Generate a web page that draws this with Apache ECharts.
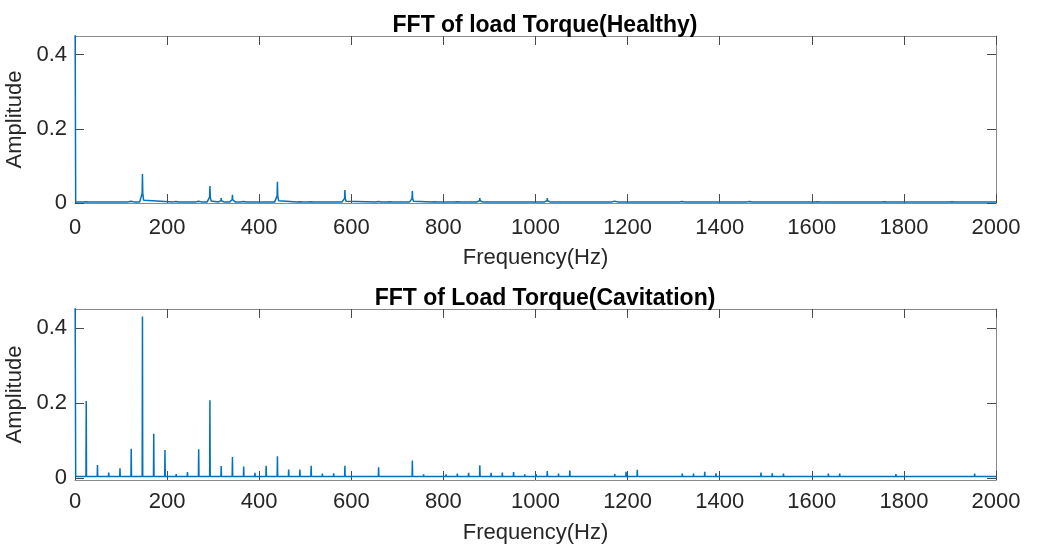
<!DOCTYPE html>
<html>
<head>
<meta charset="utf-8">
<title>FFT of Load Torque</title>
<script src="https://cdn.jsdelivr.net/npm/echarts@6/dist/echarts.min.js"></script>
<style>
  html, body { margin: 0; padding: 0; background: #ffffff; }
  #chart { width: 1040px; height: 547px; }
</style>
</head>
<body>
<div id="chart"></div>
<script>
// Frequency axis ticks (Hz) and amplitude ticks
const freqTicks = [0, 200, 400, 600, 800, 1000, 1200, 1400, 1600, 1800, 2000];
const ampTicks = [0, 0.2, 0.4];

// Healthy pump: spectral peaks (Hz) and their amplitudes
const healthyFreq = [24.4, 122.1, 146.5, 219.8, 268.6, 293.0, 317.5, 341.9, 366.3, 439.6,
  488.4, 512.8, 586.1, 659.3, 683.8, 732.6, 781.4, 830.3, 879.1, 1025.6,
  1172.2, 1318.7, 1465.2, 1611.8, 1758.3, 1904.8];
const healthyAmp = [0.005, 0.009, 0.078, 0.007, 0.009, 0.046, 0.013, 0.022, 0.007, 0.057,
  0.005, 0.005, 0.035, 0.006, 0.005, 0.032, 0.005, 0.005, 0.013, 0.013,
  0.010, 0.006, 0.007, 0.004, 0.004, 0.004];
const healthyFloor = 0.003;

// Cavitating pump: harmonic lines (Hz) and their amplitudes
const cavFreq = [24.4, 48.8, 73.3, 97.7, 122.1, 146.5, 171.0, 195.4, 219.8, 244.2,
  268.6, 293.0, 317.5, 341.9, 366.3, 390.7, 415.1, 439.6, 464.0, 488.4,
  512.8, 537.2, 561.7, 586.1, 610.5, 634.9, 659.3, 708.2, 732.6, 757.0,
  781.4, 805.9, 830.3, 854.7, 879.1, 903.5, 928.0, 952.4, 976.8, 1001.2,
  1025.6, 1050.0, 1074.5, 1098.9, 1172.2, 1196.6, 1221.0, 1294.3, 1318.7, 1343.1,
  1367.5, 1391.9, 1440.8, 1489.6, 1514.0, 1538.5, 1587.3, 1636.1, 1660.6, 1685.0,
  1782.7, 1807.0, 1904.8, 1953.6, 1978.0];
const cavAmp = [0.205, 0.035, 0.015, 0.026, 0.078, 0.430, 0.118, 0.075, 0.011, 0.016,
  0.077, 0.207, 0.032, 0.056, 0.031, 0.014, 0.033, 0.058, 0.023, 0.023,
  0.033, 0.012, 0.013, 0.033, 0.008, 0.008, 0.029, 0.008, 0.047, 0.010,
  0.008, 0.010, 0.012, 0.014, 0.034, 0.014, 0.015, 0.016, 0.010, 0.011,
  0.019, 0.012, 0.020, 0.009, 0.011, 0.017, 0.022, 0.009, 0.012, 0.012,
  0.017, 0.013, 0.009, 0.015, 0.013, 0.012, 0.009, 0.012, 0.012, 0.009,
  0.011, 0.009, 0.009, 0.012, 0.009];
const cavFloor = 0.004;

// DC component (off the top of both plots)
const dcAmp = 0.6;

// Peak outline: offsets in Hz and fraction of the peak height above the floor
const leakySkirt = [[-6, 0], [-2.5, 0.06], [-0.7, 0.3], [0, 1], [0.7, 0.3], [2.5, 0.06], [6, 0]];
const sharpLine = [[-0.6, 0], [0, 1], [0.6, 0]];

function spectrum(freqs, amps, floor, shape) {
  const pts = [[0, dcAmp], [1.5, floor]];
  freqs.forEach((f, i) => {
    shape.forEach(([df, r]) => {
      pts.push([f + df, floor + r * (amps[i] - floor)]);
    });
  });
  pts.push([2000, floor]);
  return pts;
}

const FONT = '"Liberation Sans", Arial, Helvetica, sans-serif';
const textDark = '#262626';
const boxGray = '#8a8a8a';
const tickDark = '#4a4a4a';
const lineBlue = '#0072BD';

function xAxes(gridIndex, labelMargin, nameGap) {
  const common = {
    gridIndex, type: 'value', min: freqTicks[0], max: freqTicks[freqTicks.length - 1],
    interval: freqTicks[1] - freqTicks[0],
    splitLine: { show: false },
    axisLine: { show: true, onZero: false, lineStyle: { color: boxGray, width: 1 } },
    axisTick: { show: true, inside: true, length: 9, lineStyle: { color: tickDark, width: 1 } }
  };
  return [
    Object.assign({}, common, {
      position: 'bottom',
      axisLabel: { show: true, fontFamily: FONT, fontSize: 22, color: textDark, margin: labelMargin,
        formatter: (v) => String(v) },
      name: 'Frequency(Hz)', nameLocation: 'middle', nameGap: nameGap,
      nameTextStyle: { fontFamily: FONT, fontSize: 22, color: textDark }
    }),
    Object.assign({}, common, { position: 'top', axisLabel: { show: false } })
  ];
}

function yAxes(gridIndex, yMin) {
  const common = {
    gridIndex, type: 'value', min: yMin, max: 0.45,
    splitLine: { show: false },
    axisLine: { show: true, onZero: false, lineStyle: { color: boxGray, width: 1 } },
    axisTick: { show: true, inside: true, length: 9, customValues: ampTicks,
      lineStyle: { color: tickDark, width: 1 } }
  };
  return [
    Object.assign({}, common, {
      position: 'left',
      axisLabel: { show: true, customValues: ampTicks, fontFamily: FONT, fontSize: 22,
        color: textDark, margin: 8, formatter: (v) => String(v) },
      name: 'Amplitude', nameLocation: 'middle', nameGap: 43, nameRotate: 90,
      nameTextStyle: { fontFamily: FONT, fontSize: 22, color: textDark }
    }),
    Object.assign({}, common, { position: 'right', axisLabel: { show: false } })
  ];
}

const chart = echarts.init(document.getElementById('chart'), null, { renderer: 'canvas' });

chart.setOption({
  animation: false,
  backgroundColor: '#ffffff',
  title: [
    { text: 'FFT of load Torque(Healthy)', left: 540, top: 9, textAlign: 'center',
      textStyle: { fontFamily: FONT, fontSize: 23, fontWeight: 'bold', color: '#000000' } },
    { text: 'FFT of Load Torque(Cavitation)', left: 540, top: 282, textAlign: 'center',
      textStyle: { fontFamily: FONT, fontSize: 23, fontWeight: 'bold', color: '#000000' } }
  ],
  grid: [
    { left: 75, right: 44, top: 36, height: 167, outerBoundsMode: 'none', containLabel: false },
    { left: 75, right: 44, top: 309, height: 171, outerBoundsMode: 'none', containLabel: false }
  ],
  xAxis: [].concat(xAxes(0, 14, 44), xAxes(1, 11, 42)),
  yAxis: [].concat(yAxes(0, 0), yAxes(1, -0.005)),
  series: [
    {
      name: 'Healthy', type: 'line', xAxisIndex: 0, yAxisIndex: 0,
      data: spectrum(healthyFreq, healthyAmp, healthyFloor, leakySkirt),
      showSymbol: false, symbol: 'none', sampling: null, clip: true,
      lineStyle: { color: lineBlue, width: 1.5 }
    },
    {
      name: 'Cavitation', type: 'line', xAxisIndex: 2, yAxisIndex: 2,
      data: spectrum(cavFreq, cavAmp, cavFloor, sharpLine),
      showSymbol: false, symbol: 'none', sampling: null, clip: true,
      lineStyle: { color: lineBlue, width: 1.5 }
    }
  ]
});
</script>
</body>
</html>
